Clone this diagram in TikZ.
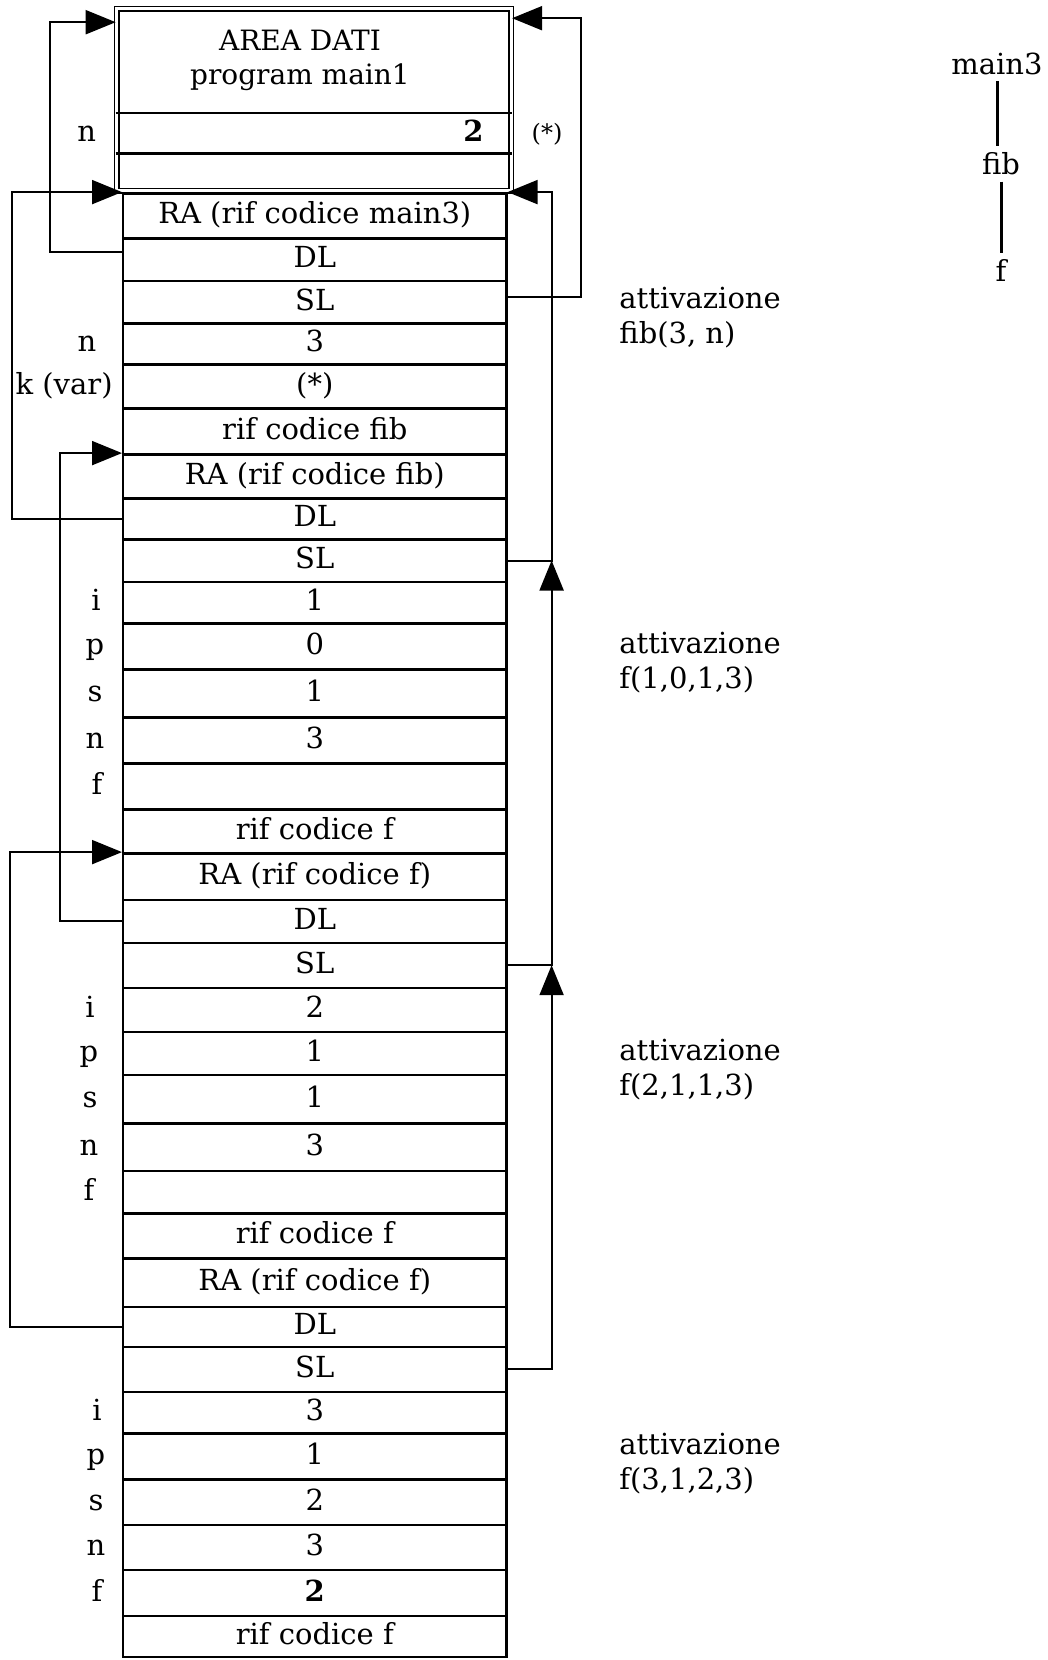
\documentclass[tikz,border=0pt]{standalone}
\usepackage{fontspec}
\setmainfont{DejaVu Serif}
\usetikzlibrary{arrows.meta}
\tikzset{
  cell/.style={draw, line width=1.2pt, minimum width=191.6pt, inner sep=0pt,
               font=\fontsize{14.5}{17}\selectfont, text height=10.5pt, text depth=2.5pt},
  areabox/.style={draw, double, double distance=1.4pt, line width=0.8pt,
                  minimum width=197.4pt, minimum height=91pt, inner sep=0pt},
  lbl/.style={font=\fontsize{14.5}{17}\selectfont, inner sep=1pt, text height=10.5pt, text depth=2.5pt},
  act/.style={font=\fontsize{14.5}{17.5}\selectfont, align=left, anchor=west, inner sep=0pt},
  tree/.style={font=\fontsize{14.5}{17}\selectfont, inner sep=3pt},
  link/.style={-{Triangle[length=15pt,width=12pt]}, line width=1pt},
  treeline/.style={line width=1.5pt}
}

\begin{document}
\begin{tikzpicture}[x=0.5pt, y=-0.5pt]
  \useasboundingbox (0,0) rectangle (1048,1660);

  % area dati del programma principale
  \node[areabox] (area) at (313.9,99.5) {};
  \node[lbl, align=center, text height=, text depth=, font=\fontsize{14}{17}\selectfont] (areatitle) at (300,60) {AREA DATI\\program main1};
  \draw[line width=1.1pt] (area.west |- 0,113.3) -- (area.east |- 0,113.3);
  \draw[line width=1.1pt] (area.west |- 0,153.5) -- (area.east |- 0,153.5);
  \node[lbl, anchor=east] (areaval) at (486,133.4) {\textbf{2}};
  \node[lbl] (arean) at (86.8,133.4) {n};
  \node[lbl, font=\fontsize{12}{14}\selectfont] (astar) at (547,133.4) {(*)};

  % pila dei record di attivazione
  \foreach \i/\top/\bot/\txt in {
      1/193.3/238.3/RA (rif codice main3),
      2/238.3/281/DL,
      3/281/323.3/SL,
      4/323.3/364.3/3,
      5/364.3/408.3/(*),
      6/408.3/454.3/rif codice fib,
      7/454.3/498.3/RA (rif codice fib),
      8/498.3/539.3/DL,
      9/539.3/581.7/SL,
      10/581.7/623.3/1,
      11/623.3/669.3/0,
      12/669.3/717.3/1,
      13/717.3/763.3/3,
      14/763.3/809.3/{},
      15/809.3/853.3/rif codice f,
      16/853.3/900/RA (rif codice f),
      17/900/942.7/DL,
      18/942.7/987.7/SL,
      19/987.7/1031.7/2,
      20/1031.7/1075/1,
      21/1075/1123.3/1,
      22/1123.3/1170.7/3,
      23/1170.7/1213.3/{},
      24/1213.3/1258.3/rif codice f,
      25/1258.3/1306.7/RA (rif codice f),
      26/1306.7/1346.7/DL,
      27/1346.7/1391.7/SL,
      28/1391.7/1433.3/3,
      29/1433.3/1479.3/1,
      30/1479.3/1525/2,
      31/1525/1570/3,
      32/1570/1616/\textbf{2},
      33/1616/1657/rif codice f}
    \node[cell, minimum height={(\bot-\top)*0.5pt}] (r\i) at (314.8,{(\top+\bot)/2}) {\txt};

  % nomi delle variabili
  \node[lbl] (l4) at (87,0 |- r4) {n};
  \node[lbl, anchor=east] (l5) at (115,0 |- r5) {k (var)};
  \foreach \r/\x/\t in {10/96/i, 11/95/p, 12/95/s, 13/95/n, 14/97/f,
                        19/90/i, 20/89/p, 21/90/s, 22/89/n, 23/89/f,
                        28/97/i, 29/96/p, 30/96/s, 31/96/n, 32/97/f}
    \node[lbl] (l\r) at (\x,0 |- r\r) {\t};

  \node[act] (act1) at (619,318) {attivazione\\fib(3, n)};
  \node[act] (act2) at (619,662.7) {attivazione\\f(1,0,1,3)};
  \node[act] (act3) at (619,1070) {attivazione\\f(2,1,1,3)};
  \node[act] (act4) at (619,1463.5) {attivazione\\f(3,1,2,3)};

  % catene dinamiche (DL)
  \draw[link] ([yshift=4pt]r2.west) -- ++(-72.2,0) |- ([yshift=-7.25pt]area.north west);
  \draw[link] (r8.west) -- ++(-110.3,0) |- (r1.north west);
  \draw[link] (r17.west) -- ++(-61.6,0) |- (r7.north west);
  \draw[link] (r26.west) -- ++(-112.4,0) |- (r16.north west);

  % catene statiche (SL)
  \draw[link] ([yshift=2.5pt]r3.east) -- ++(73,0) |- ([yshift=-5.25pt]area.north east);
  \draw[link] (r9.east) -- ++(44,0) |- (r1.north east);
  \draw[link] (r18.east) -- ++(44,0) coordinate (j2) -- (j2 |- r9.east);
  \draw[link] (r27.east) -- ++(44,0) coordinate (j3) -- (j3 |- r18.east);

  % albero delle chiamate
  \node[tree] (tmain) at (997,63.5) {main3};
  \node[tree] (tfib) at (1001,164) {fib};
  \node[tree] (tf) at (1001,270) {f};
  \draw[treeline] (tmain.south) -- (tmain.south |- tfib.north);
  \draw[treeline] (tfib.south) -- (tf.north);
\end{tikzpicture}
\end{document}
